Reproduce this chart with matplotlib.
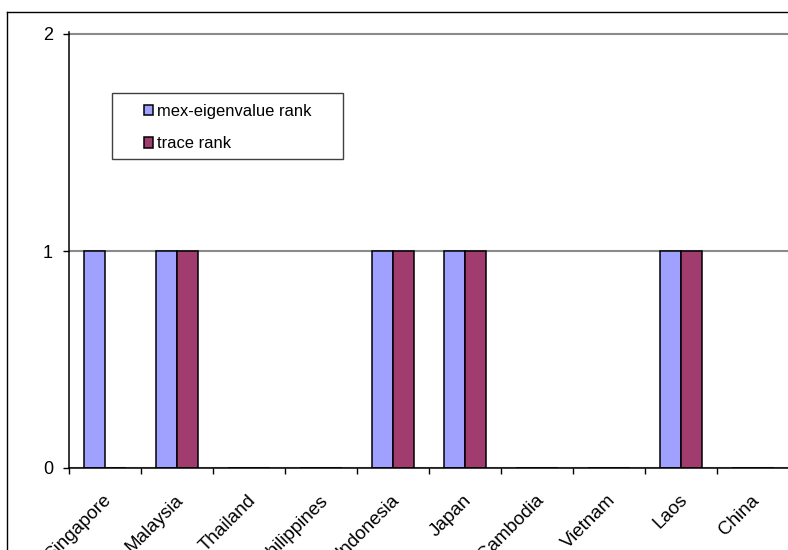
import numpy as np
import matplotlib
matplotlib.use("Agg")
import matplotlib.pyplot as plt
import matplotlib.transforms as mtransforms
from matplotlib.lines import Line2D
from matplotlib.patches import Rectangle

plt.rcParams['font.family'] = ['Liberation Sans', 'DejaVu Sans']

countries = ['Singapore', 'Malaysia', 'Thailand', 'Philippines', 'Indonesia',
             'Japan', 'Cambodia', 'Vietnam', 'Laos', 'China']
mex_eigen_rank = [1, 1, 0, 0, 1, 1, 0, 0, 1, 0]
trace_rank = [0, 1, 0, 0, 1, 1, 0, 0, 1, 0]
series_names = ['mex-eigenvalue rank', 'trace rank']
colors = ['#A0A0FF', '#A03C6E']

W, H = 788, 550
fig = plt.figure(figsize=(W / 100, H / 100), dpi=100)

# plot area in pixels: y=0 at 468, y=2 at 34, x from 69 over 720 px
ymax = 2.01
unit = (468 - 34) / 2
top_px = 468 - ymax * unit
ax = fig.add_axes([69 / W, (H - 468) / H, 720 / W, (468 - top_px) / H])

x = np.arange(len(countries)) + 0.5
bw = 21 / 72
ax.bar(x - bw, mex_eigen_rank, bw, align='edge', color=colors[0],
       edgecolor='black', linewidth=1.1, label=series_names[0], zorder=2)
ax.bar(x, trace_rank, bw, align='edge', color=colors[1],
       edgecolor='black', linewidth=1.1, label=series_names[1], zorder=2)

ax.set_xlim(0, len(countries))
ax.set_ylim(0, ymax)

for s in ['top', 'right']:
    ax.spines[s].set_visible(False)
for s in ['left', 'bottom']:
    ax.spines[s].set_color('black')
    ax.spines[s].set_linewidth(1.1)
    ax.spines[s].set_zorder(3)

ax.set_yticks([0, 1, 2])
ax.tick_params(axis='y', direction='out', length=4.5, width=1, pad=7,
               labelsize=13, colors='black')
ax.yaxis.grid(True, color='#8a8a8a', linewidth=1.5)
ax.set_axisbelow(True)

# category boundary ticks (major) and centred labels (minor)
ax.set_xticks(np.arange(len(countries) + 1))
ax.set_xticklabels([])
ax.set_xticks(x, minor=True)
ax.set_xticklabels(countries, minor=True, rotation=45, ha='right',
                   rotation_mode='anchor', fontsize=13.5)
ax.tick_params(axis='x', which='major', direction='out', length=4.3, width=1)
ax.tick_params(axis='x', which='minor', length=0, pad=17)
shift = mtransforms.ScaledTranslation(-2 / 100, 0, fig.dpi_scale_trans)
for lab in ax.get_xticklabels(minor=True):
    lab.set_transform(lab.get_transform() + shift)

# legend
leg = fig.legend(loc='upper left', bbox_to_anchor=(144 / W, 1 - 104 / H),
                 frameon=False, fontsize=11.9, handlelength=0.56,
                 handleheight=0.56, handletextpad=0.2, labelspacing=1.05,
                 borderpad=0, borderaxespad=0)
for h in leg.legend_handles:
    h.set_edgecolor('black')
    h.set_linewidth(1.1)
fig.add_artist(Rectangle((112 / W, 1 - 159 / H), 231 / W, 66 / H,
                         transform=fig.transFigure, facecolor='white',
                         edgecolor='#404040', linewidth=1, zorder=4))

# outer chart frame (cropped at right and bottom)
fig.add_artist(Line2D([7 / W, 7 / W], [0, 1 - 12 / H], color='black', lw=1))
fig.add_artist(Line2D([7 / W, 1], [1 - 12 / H, 1 - 12 / H], color='black', lw=1))

fig.savefig('out.png', dpi=100)
